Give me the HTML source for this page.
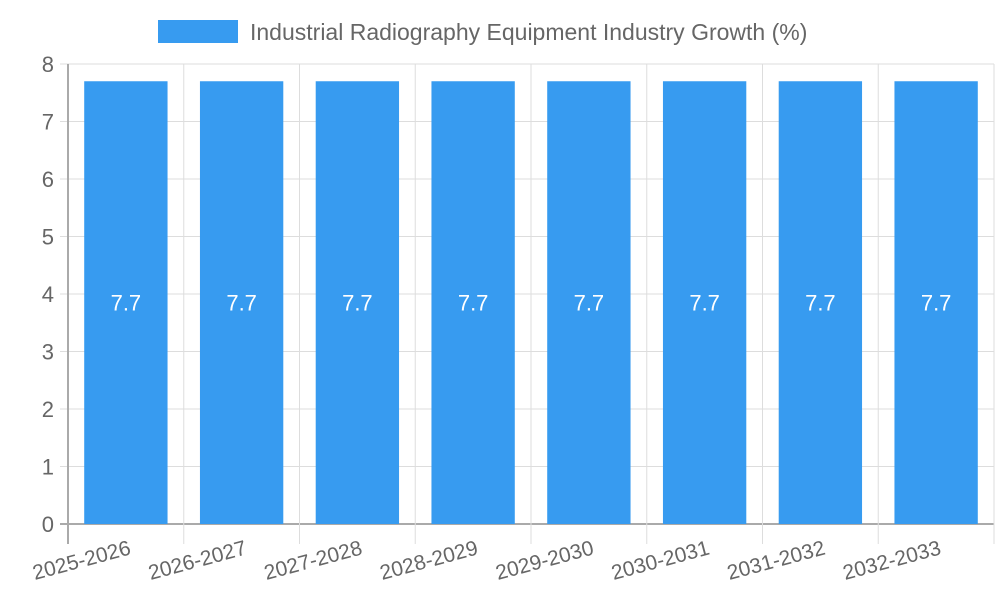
<!DOCTYPE html>
<html><head><meta charset="utf-8"><style>
body{margin:0;background:#fff}
svg{display:block;font-family:"Liberation Sans",sans-serif}
</style></head><body>
<svg id="c" width="1000" height="600">
<rect x="158" y="20" width="80" height="23" fill="#379bf0"/>
<text x="250" y="40" font-size="23" fill="#666">Industrial Radiography Equipment Industry Growth (%)</text>
<g id="grid"></g><g id="bars"></g><g id="labels"></g>
</svg>
<script>
const categories=["2025-2026","2026-2027","2027-2028","2028-2029","2029-2030","2030-2031","2031-2032","2032-2033"];
const values=[7.7,7.7,7.7,7.7,7.7,7.7,7.7,7.7];
const yTicks=[0,1,2,3,4,5,6,7,8];
const NS="http://www.w3.org/2000/svg";
const L=68,R=994,T=64,B=524,yMax=8;
const y=v=>B-(v/yMax)*(B-T);
const bw=(R-L)/categories.length;
const x=i=>L+i*bw;
function mk(t,a,p){const e=document.createElementNS(NS,t);for(const k in a)e.setAttribute(k,a[k]);p.appendChild(e);return e;}
const grid=document.getElementById('grid'),bars=document.getElementById('bars'),labels=document.getElementById('labels');
yTicks.forEach(t=>{
  const ln=mk('line',{x1:L-8,x2:R,y1:y(t),y2:y(t),stroke:t===0?'#aaa':'#ddd','stroke-width':t===0?2:1},grid);
  
  
  const tx=mk('text',{x:L-14,y:y(t)+8,'text-anchor':'end','font-size':22,fill:'#666'},grid);
  tx.textContent=t;
  
  
});
for(let i=0;i<=categories.length;i++){
  const ln=mk('line',{x1:x(i),x2:x(i),y1:T,y2:B+20,stroke:i===0?'#aaa':'#ddd','stroke-width':i===0?2:1},grid);
  
  
}
categories.forEach((c,i)=>{
  const bx=x(i)+bw*0.14,w=bw*0.72;
  const r=mk('rect',{x:bx,y:y(values[i]),width:w,height:B-y(values[i]),fill:'#379bf0'},bars);
  
  
  const v=mk('text',{x:bx+w/2,y:y(values[i]/2)+8,'text-anchor':'middle','font-size':22,fill:'#fff'},bars);
  v.textContent=values[i];
  
  
  const cx=x(i)+bw/2;
  const t=mk('text',{x:cx+6,y:B+30,'text-anchor':'end','font-size':21,fill:'#666',transform:`rotate(-15 ${cx+6} ${B+30})`},labels);
  t.textContent=c;
  
  
});
</script>
</body></html>
